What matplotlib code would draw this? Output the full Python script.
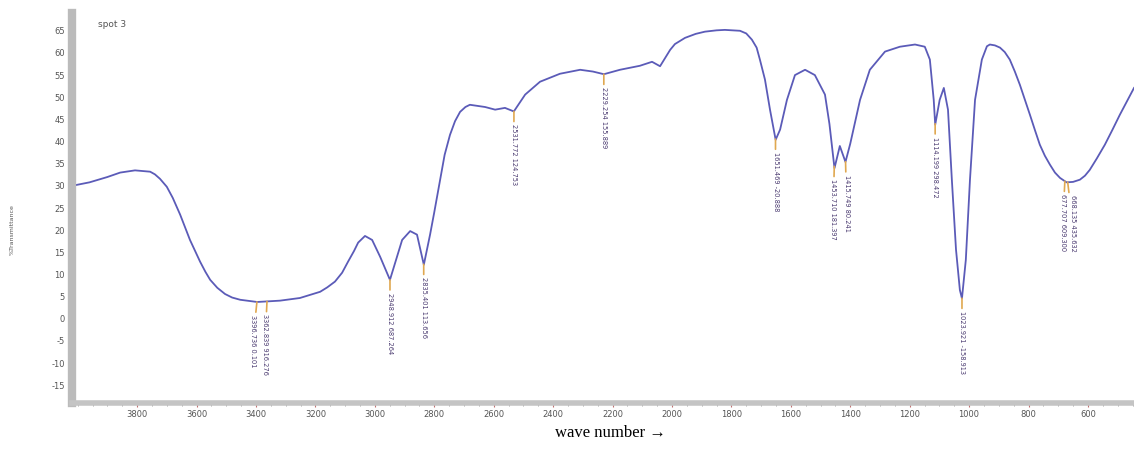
import numpy as np
import matplotlib
matplotlib.use("Agg")
import matplotlib.pyplot as plt
from matplotlib.ticker import MultipleLocator

plt.rcParams["axes.unicode_minus"] = False

# spectrum (wave number, %T)
wn = [4020, 3960, 3900, 3857, 3807, 3756, 3740, 3723, 3700, 3680, 3655, 3622,
      3588, 3570, 3554, 3530, 3504, 3480, 3453, 3396, 3319, 3252, 3184, 3160,
      3134, 3110, 3090, 3070, 3056, 3033, 3009, 2982, 2949, 2932, 2908, 2881,
      2858, 2835, 2814, 2800, 2780, 2765, 2747, 2730, 2713, 2695, 2680, 2629,
      2595, 2562, 2532, 2494, 2444, 2377, 2309, 2266, 2229, 2175, 2108, 2067,
      2040, 2006, 1990, 1956, 1920, 1889, 1850, 1822, 1771, 1750, 1731, 1715,
      1704, 1687, 1670, 1651, 1636, 1613, 1586, 1552, 1519, 1485, 1470, 1453,
      1435, 1416, 1400, 1367, 1334, 1283, 1233, 1182, 1149, 1132, 1119, 1114,
      1099, 1085, 1071, 1058, 1044, 1031, 1024, 1011, 997, 980, 957, 940, 930,
      913, 896, 880, 863, 846, 829, 812, 795, 778, 762, 745, 728, 711, 694,
      672, 650, 627, 610, 594, 570, 543, 518, 493, 468, 445]
trans = [30.0, 30.8, 32.0, 33.0, 33.5, 33.2, 32.6, 31.6, 29.8, 27.3, 23.5, 17.8,
         12.9, 10.6, 8.8, 7.0, 5.6, 4.8, 4.3, 3.8, 4.1, 4.7, 6.1, 7.1,
         8.4, 10.4, 12.9, 15.3, 17.2, 18.7, 17.8, 14.0, 8.8, 12.5, 17.8, 19.8,
         19.0, 12.2, 19.0, 24.0, 31.4, 37.0, 41.5, 44.6, 46.7, 47.8, 48.3, 47.8,
         47.2, 47.6, 46.8, 50.6, 53.5, 55.3, 56.2, 55.8, 55.2, 56.2, 57.1, 58.0,
         57.0, 60.7, 62.0, 63.4, 64.3, 64.8, 65.1, 65.2, 65.0, 64.4, 63.0, 61.2,
         58.5, 54.0, 47.2, 40.4, 42.7, 49.4, 55.0, 56.2, 55.0, 50.6, 44.0, 34.0,
         39.0, 35.4, 39.5, 49.4, 56.2, 60.3, 61.4, 61.9, 61.4, 58.5, 49.4, 43.8,
         49.4, 52.1, 47.2, 31.4, 15.6, 6.5, 4.6, 13.3, 31.4, 49.4, 58.5, 61.5, 61.9,
         61.7, 61.2, 60.2, 58.5, 55.8, 52.8, 49.4, 46.0, 42.5, 39.3, 36.8, 34.8, 33.0, 31.8,
         30.8, 30.9, 31.4, 32.3, 33.6, 36.2, 39.3, 42.6, 46.0, 49.2, 52.1]

# peak picks
peak_wn = [3396.736, 3362.839, 2948.912, 2835.401, 2531.772, 2229.254,
           1651.469, 1453.710, 1415.749, 1114.199, 1023.921, 677.707, 668.135]
peak_val = ["0.101", "916.276", "687.264", "113.656", "124.753", "155.889",
            "-20.888", "181.397", "80.241", "298.472", "-158.913", "609.300",
            "435.632"]
label_dx = [-4, -2, 0, 0, 0, 0, 0, -1, 1, 0, 0, -2, 5]

xtick_vals = [3800, 3600, 3400, 3200, 3000, 2800, 2600, 2400, 2200, 2000,
              1800, 1600, 1400, 1200, 1000, 800, 600]
ytick_vals = list(range(-15, 66, 5))

fig = plt.figure(figsize=(11.34, 4.5), dpi=100)
ax = fig.add_axes([0.0635, 0.1044, 0.9365, 0.8666])

ax.plot(wn, trans, color="#5b5bb8", lw=1.3)

ax.set_xlim(4019, 445)
ax.set_ylim(-19, 69)

wn_r = np.array(wn[::-1], dtype=float)
tr_r = np.array(trans[::-1], dtype=float)
for p, v, dx in zip(peak_wn, peak_val, label_dx):
    yc = np.interp(p, wn_r, tr_r)
    ax.annotate(f"{p:.3f} {v}", xy=(p, yc), xytext=(dx, -13),
                textcoords="offset pixels", rotation=270, ha="center",
                va="top", fontsize=4.8, color="#4a3a70",
                arrowprops=dict(arrowstyle="-", color="#e0a850", lw=1.2,
                                shrinkA=0, shrinkB=0))

ax.set_xticks(xtick_vals)
ax.xaxis.set_minor_locator(MultipleLocator(50))
ax.set_yticks(ytick_vals)
ax.tick_params(axis="both", which="major", labelsize=6, labelcolor="#555555",
               color="#c07070", length=3, width=0.8, pad=2)
ax.tick_params(axis="x", which="minor", color="#999999", length=2)

for s in ["top", "right"]:
    ax.spines[s].set_visible(False)
ax.spines["left"].set_color("#bbbbbb")
ax.spines["left"].set_linewidth(6)
ax.spines["bottom"].set_color("#c4c4c4")
ax.spines["bottom"].set_linewidth(4)

ax.text(3930, 66.5, "spot 3", fontsize=6.5, color="#555555", va="center")
fig.text(0.011, 0.49, "%Transmittance", rotation=90, fontsize=4.5,
         color="#555555", ha="center", va="center")
fig.text(0.538, 0.02, "wave number \u2192", fontsize=12,
         family="Liberation Serif", ha="center", va="bottom")

fig.savefig("out.png", dpi=100)
